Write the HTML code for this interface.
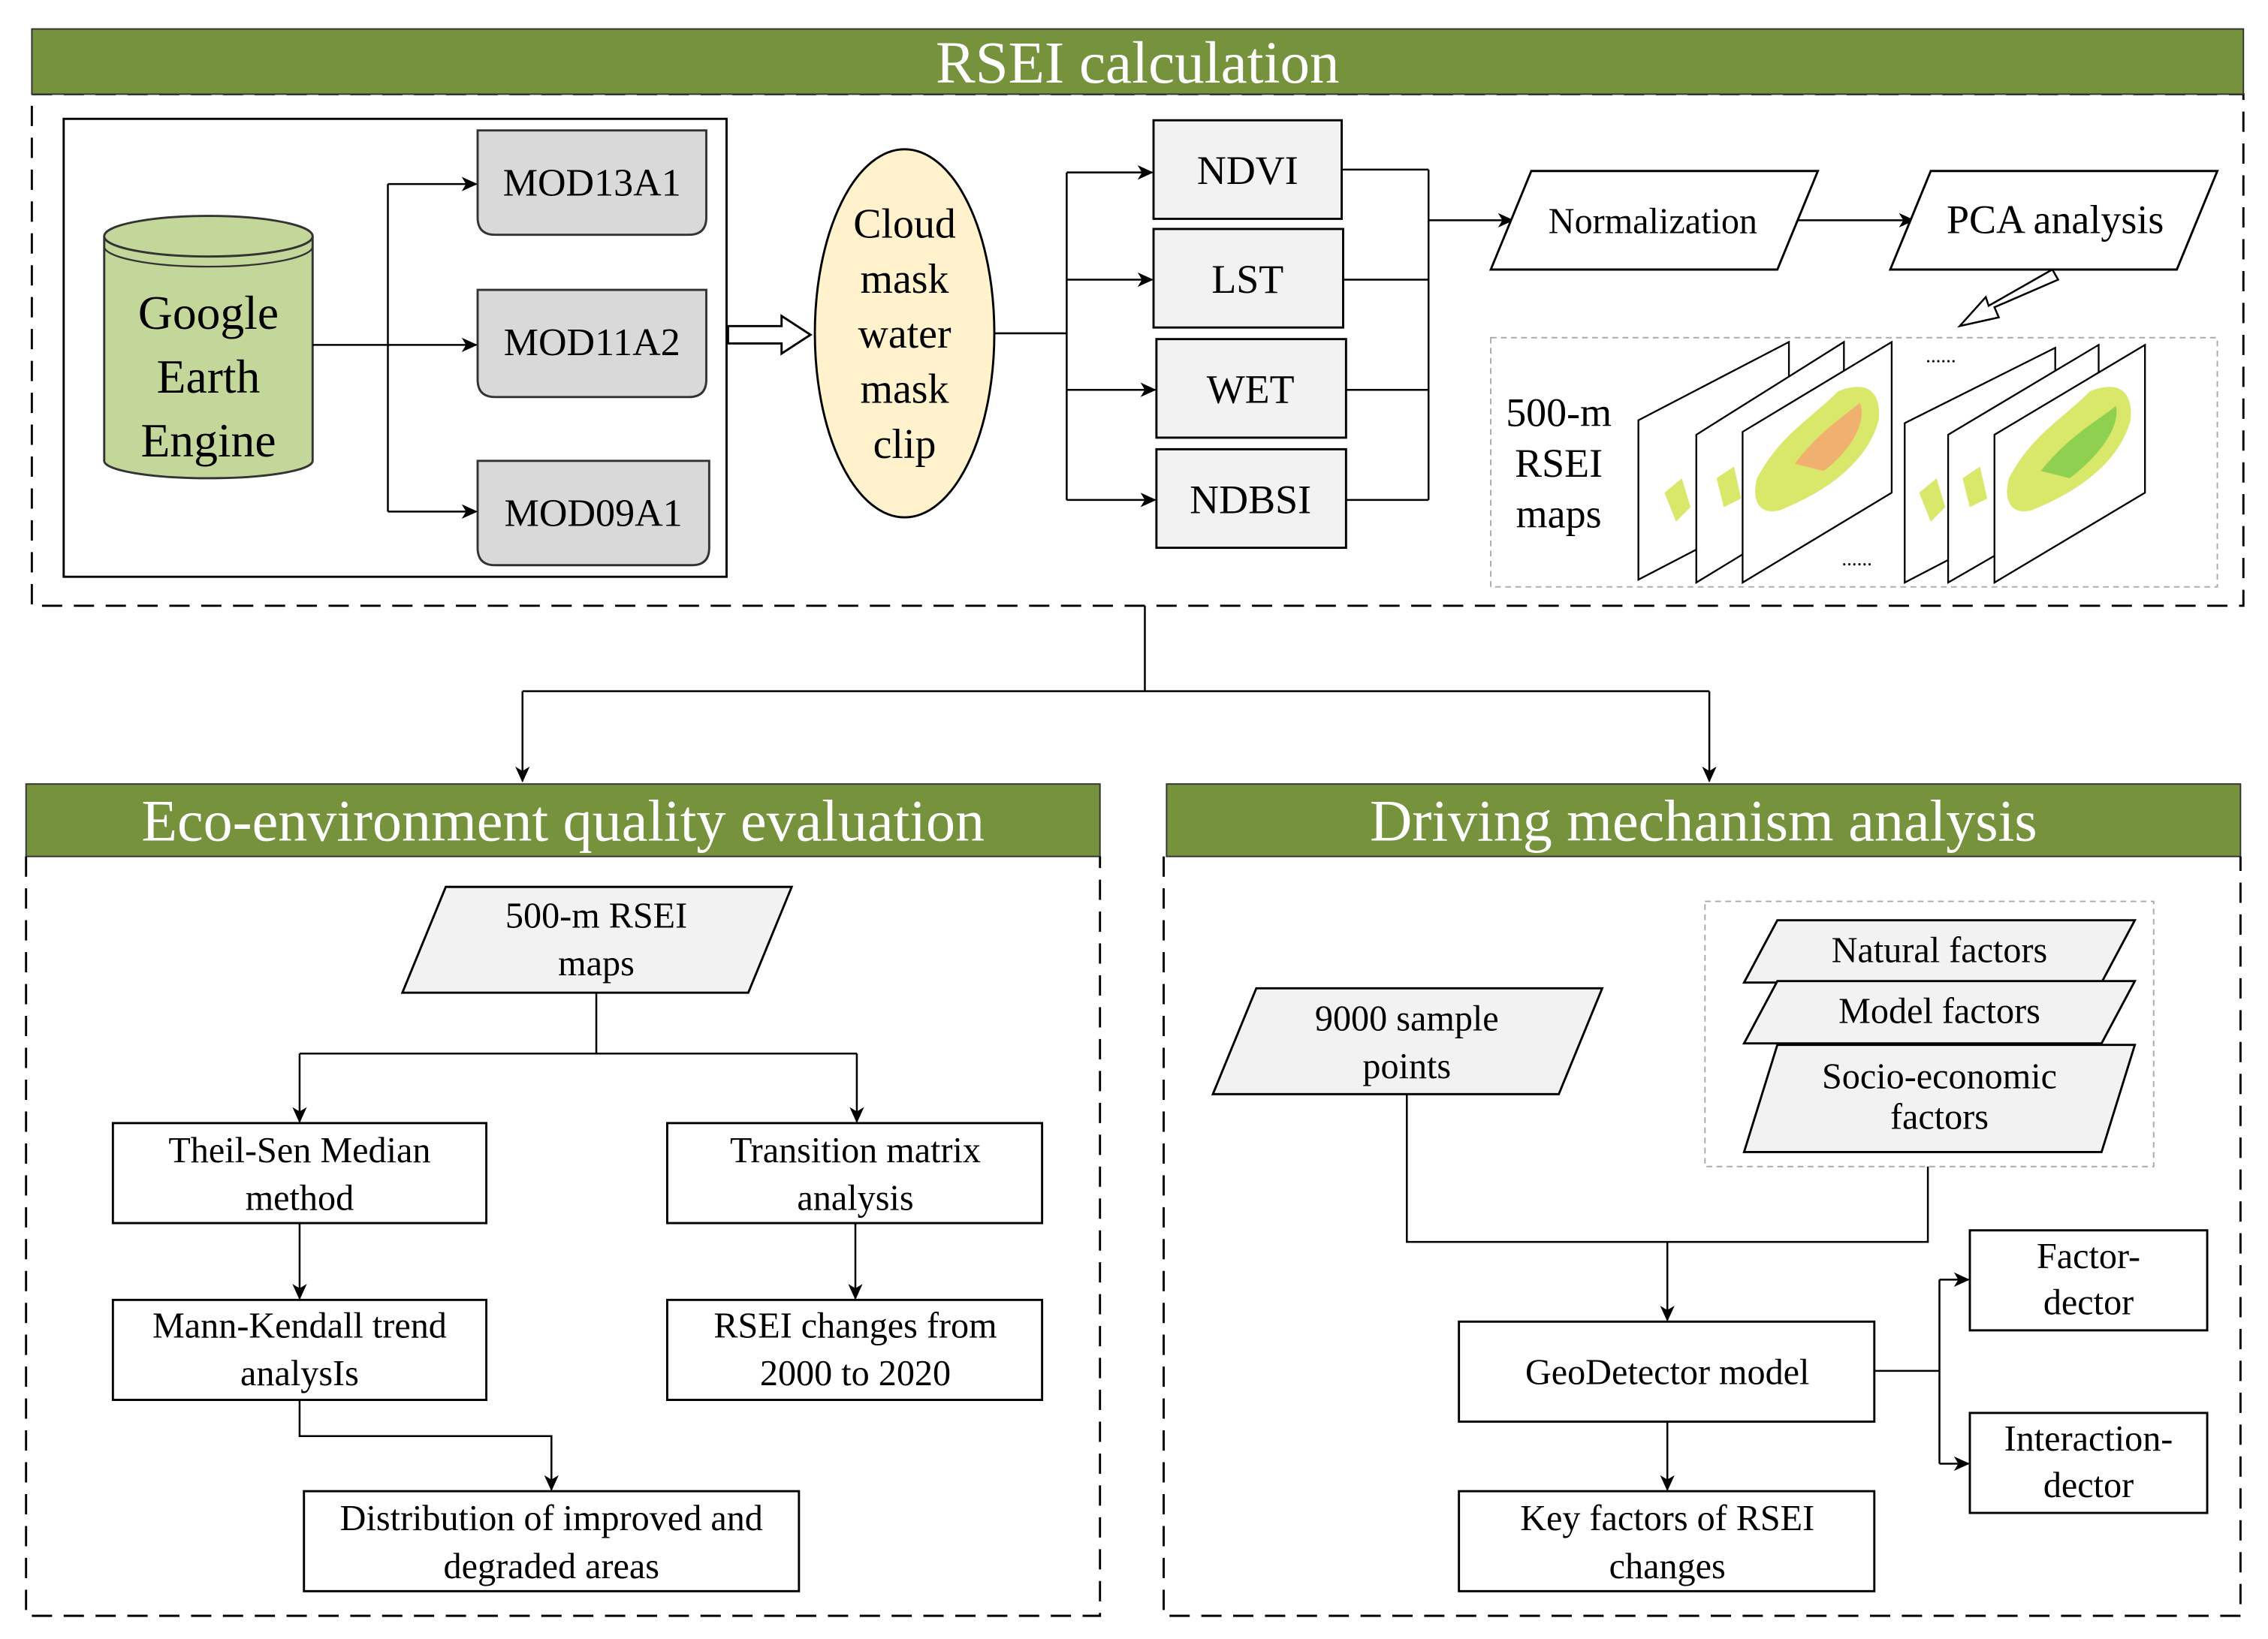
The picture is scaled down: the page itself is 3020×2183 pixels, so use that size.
<!DOCTYPE html>
<html><head><meta charset="utf-8"><style>html,body{margin:0;padding:0;background:#fff}svg{display:block}</style></head>
<body>
<svg width="3020" height="2183" viewBox="0 0 1567 1131" preserveAspectRatio="none" xmlns="http://www.w3.org/2000/svg" font-family="'Liberation Serif', serif">
<defs>
<marker id="a" markerWidth="12" markerHeight="12" refX="10" refY="5" orient="auto" markerUnits="userSpaceOnUse"><path d="M0,0 L11,5 L0,10 L3,5 z" fill="#000"/></marker>
</defs>
<g stroke="#000" stroke-width="1.5" fill="none">
<rect x="22" y="65" width="1528" height="353" stroke-dasharray="14,8"/>
<rect x="44" y="82" width="458" height="316"/>
</g>
<rect x="22" y="20" width="1528" height="45" fill="#76923c" stroke="#333"/>
<text x="786" y="57" font-size="41" fill="#fff" text-anchor="middle">RSEI calculation</text>
<path d="M72,163 L72,318 A72,12 0 0 0 216,318 L216,163" fill="#c4d79b" stroke="#333" stroke-width="1.5"/>
<ellipse cx="144" cy="163" rx="72" ry="14" fill="#c4d79b" stroke="#333" stroke-width="1.5"/>
<path d="M72,170 A72,14 0 0 0 216,170" fill="none" stroke="#333" stroke-width="1.2"/>
<g font-size="33" text-anchor="middle"><text x="144" y="227">Google</text><text x="144" y="271">Earth</text><text x="144" y="315">Engine</text></g>
<g fill="#d9d9d9" stroke="#333" stroke-width="1.5">
<path d="M330,90 H488 V150 Q488,162 476,162 H342 Q330,162 330,150 z"/>
<path d="M330,200 H488 V262 Q488,274 476,274 H342 Q330,274 330,262 z"/>
<path d="M330,318 H490 V378 Q490,390 478,390 H342 Q330,390 330,378 z"/>
</g>
<g font-size="27" text-anchor="middle"><text x="409" y="135">MOD13A1</text><text x="409" y="245">MOD11A2</text><text x="410" y="363">MOD09A1</text></g>
<g stroke="#000" stroke-width="1.3" fill="none">
<path d="M216,238 H268 M268,127 V353"/>
<path d="M268,127 H329" marker-end="url(#a)"/><path d="M268,238 H329" marker-end="url(#a)"/><path d="M268,353 H329" marker-end="url(#a)"/>
</g>
<path d="M503,225 H540 V218 L560,231 L540,244 V237 H503 z" fill="#fff" stroke="#000" stroke-width="1.5"/>
<ellipse cx="625" cy="230" rx="62" ry="127" fill="#fff2cc" stroke="#000" stroke-width="1.5"/>
<g font-size="29" text-anchor="middle"><text x="625" y="164">Cloud</text><text x="625" y="202">mask</text><text x="625" y="240">water</text><text x="625" y="278">mask</text><text x="625" y="316">clip</text></g>
<g stroke="#000" stroke-width="1.3" fill="none">
<path d="M687,230 H737 M737,119 V345"/>
<path d="M737,119 H796" marker-end="url(#a)"/><path d="M737,193 H796" marker-end="url(#a)"/><path d="M737,269 H798" marker-end="url(#a)"/><path d="M737,345 H798" marker-end="url(#a)"/>
<path d="M927,117 H987 M928,193 H987 M930,269 H987 M930,345 H987 M987,117 V345"/>
<path d="M987,152 H1045" marker-end="url(#a)"/>
<path d="M1240,152 H1322" marker-end="url(#a)"/>
</g>
<g fill="#f2f2f2" stroke="#000" stroke-width="1.5">
<rect x="797" y="83" width="130" height="68"/><rect x="797" y="158" width="131" height="68"/>
<rect x="799" y="234" width="131" height="68"/><rect x="799" y="310" width="131" height="68"/>
</g>
<g font-size="28" text-anchor="middle"><text x="862" y="127">NDVI</text><text x="862" y="202">LST</text><text x="864" y="278">WET</text><text x="864" y="354">NDBSI</text></g>
<g fill="#fff" stroke="#000" stroke-width="1.5">
<polygon points="1030,186 1058,118 1256,118 1228,186"/>
<polygon points="1306,186 1334,118 1532,118 1504,186"/>
</g>
<text x="1142" y="161" font-size="25" text-anchor="middle">Normalization</text>
<text x="1420" y="161" font-size="28" text-anchor="middle">PCA analysis</text>
<path d="M1422,193 L1378,212 L1381,219 L1354,225 L1372,205 L1374,211 L1418,186 z" fill="#fff" stroke="#000" stroke-width="1.3"/>
<rect x="1030" y="233" width="502" height="172" fill="none" stroke="#aaa" stroke-dasharray="4,3"/>
<g font-size="28" text-anchor="middle"><text x="1077" y="294">500-m</text><text x="1077" y="329">RSEI</text><text x="1077" y="364">maps</text></g>
<g stroke="#000" stroke-width="1.2" fill="#fff">
<polygon points="1132,290 1236,236 1236,346 1132,400"/>
<polygon points="1172,300 1274,236 1274,340 1172,402"/>
<polygon points="1204,298 1307,236 1307,340 1204,402"/>
<polygon points="1316,292 1420,240 1420,348 1316,402"/>
<polygon points="1346,300 1450,238 1450,342 1346,402"/>
<polygon points="1378,300 1482,238 1482,340 1378,402"/>
</g>
<g fill="#d9e86a">
<path d="M1150,340 l12,-10 l6,20 l-10,10 z"/><path d="M1186,330 l12,-8 l5,22 l-12,6 z"/>
<path d="M1214,330 C1230,300 1250,290 1270,270 C1290,262 1300,270 1298,290 C1290,320 1260,340 1230,352 C1215,356 1210,345 1214,330 z"/>
<path d="M1326,340 l12,-10 l6,20 l-10,10 z"/><path d="M1356,330 l12,-8 l5,22 l-12,6 z"/>
<path d="M1388,330 C1404,300 1424,290 1444,270 C1464,262 1474,270 1472,290 C1464,320 1434,340 1404,352 C1389,356 1384,345 1388,330 z"/>
</g>
<path d="M1240,320 C1255,300 1270,290 1285,278 C1290,290 1280,310 1260,325 z" fill="#f0b070"/>
<path d="M1410,325 C1430,300 1450,290 1462,280 C1465,295 1450,315 1430,330 z" fill="#8fd050"/>
<text x="1283" y="390" font-size="14" text-anchor="middle">......</text>
<text x="1341" y="250" font-size="14" text-anchor="middle">......</text>
<g stroke="#000" stroke-width="1.3" fill="none">
<path d="M791,418 V477 M361,477 H1181"/>
<path d="M361,477 V539" marker-end="url(#a)"/><path d="M1181,477 V539" marker-end="url(#a)"/>
</g>
<rect x="18" y="541" width="742" height="50" fill="#76923c" stroke="#333"/>
<rect x="806" y="541" width="742" height="50" fill="#76923c" stroke="#333"/>
<text x="389" y="580" font-size="40.5" fill="#fff" text-anchor="middle">Eco-environment quality evaluation</text>
<text x="1177" y="580" font-size="40.5" fill="#fff" text-anchor="middle">Driving mechanism analysis</text>
<g stroke="#000" stroke-width="1.5" fill="none" stroke-dasharray="14,8">
<path d="M18,591 V1115 H760 V591"/><path d="M804,591 V1115 H1548 V591"/>
</g>
<polygon points="278,685 308,612 547,612 517,685" fill="#f2f2f2" stroke="#000" stroke-width="1.5"/>
<g stroke="#000" stroke-width="1.3" fill="none">
<path d="M412,685 V727 M207,727 H592"/>
<path d="M207,727 V774" marker-end="url(#a)"/><path d="M592,727 V774" marker-end="url(#a)"/>
<path d="M207,844 V896" marker-end="url(#a)"/><path d="M591,844 V896" marker-end="url(#a)"/>
<path d="M207,966 V991 H381 V1028" marker-end="url(#a)"/>
</g>
<g fill="#fff" stroke="#000" stroke-width="1.5">
<rect x="78" y="775" width="258" height="69"/><rect x="461" y="775" width="259" height="69"/>
<rect x="78" y="897" width="258" height="69"/><rect x="461" y="897" width="259" height="69"/>
<rect x="210" y="1029" width="342" height="69"/>
</g>
<g font-size="25" text-anchor="middle">
<text x="412" y="640">500-m RSEI</text><text x="412" y="673">maps</text>
<text x="207" y="802">Theil-Sen Median</text><text x="207" y="835">method</text>
<text x="591" y="802">Transition matrix</text><text x="591" y="835">analysis</text>
<text x="207" y="923">Mann-Kendall trend</text><text x="207" y="956">analysIs</text>
<text x="591" y="923">RSEI changes from</text><text x="591" y="956">2000 to 2020</text>
<text x="381" y="1056">Distribution of improved and</text><text x="381" y="1089">degraded areas</text>
</g>
<polygon points="838,755 868,682 1107,682 1077,755" fill="#f2f2f2" stroke="#000" stroke-width="1.5"/>
<rect x="1178" y="622" width="310" height="183" fill="none" stroke="#aaa" stroke-dasharray="4,3"/>
<g fill="#f2f2f2" stroke="#000" stroke-width="1.5">
<polygon points="1205,678 1228,635 1475,635 1452,678"/>
<polygon points="1205,720 1228,677 1475,677 1452,720"/>
<polygon points="1205,795 1228,721 1475,721 1452,795"/>
</g>
<g stroke="#000" stroke-width="1.3" fill="none">
<path d="M972,755 V857 H1332 V805"/>
<path d="M1152,857 V911" marker-end="url(#a)"/>
<path d="M1152,981 V1028" marker-end="url(#a)"/>
<path d="M1295,946 H1340 M1340,883 V1010"/>
<path d="M1340,883 H1360" marker-end="url(#a)"/><path d="M1340,1010 H1360" marker-end="url(#a)"/>
</g>
<g fill="#fff" stroke="#000" stroke-width="1.5">
<rect x="1008" y="912" width="287" height="69"/><rect x="1008" y="1029" width="287" height="69"/>
<rect x="1361" y="849" width="164" height="69"/><rect x="1361" y="975" width="164" height="69"/>
</g>
<g font-size="25" text-anchor="middle">
<text x="972" y="711">9000 sample</text><text x="972" y="744">points</text>
<text x="1340" y="664">Natural factors</text><text x="1340" y="706">Model factors</text>
<text x="1340" y="751">Socio-economic</text><text x="1340" y="779">factors</text>
<text x="1152" y="955">GeoDetector model</text>
<text x="1152" y="1056">Key factors of RSEI</text><text x="1152" y="1089">changes</text>
<text x="1443" y="875">Factor-</text><text x="1443" y="907">dector</text>
<text x="1443" y="1001">Interaction-</text><text x="1443" y="1033">dector</text>
</g>
</svg>
</body></html>
